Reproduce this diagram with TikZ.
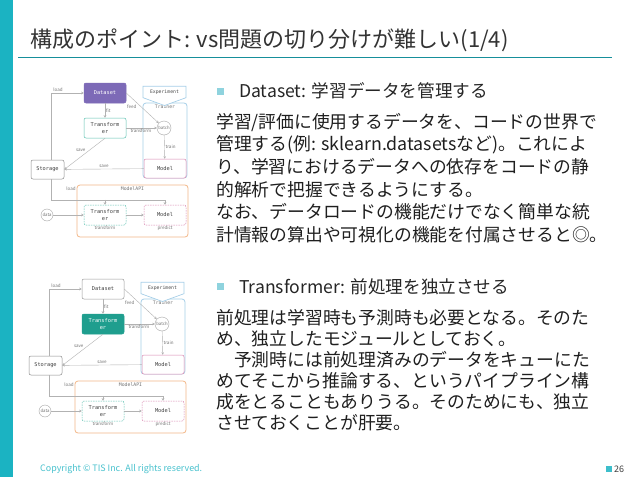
\documentclass[tikz,border=0pt]{standalone}
\usepackage{fontspec}
\setmainfont{Noto Sans CJK JP}
\setmonofont{DejaVu Sans Mono}
\usetikzlibrary{shapes.symbols, arrows.meta, positioning, calc}

\definecolor{tisteal}{HTML}{1BB3C2}
\definecolor{tislight}{HTML}{8FD3DE}
\definecolor{dspurple}{HTML}{7D6AB7}
\definecolor{tfteal}{HTML}{5EC2B2}
\definecolor{tffill}{HTML}{1F9E8E}
\definecolor{mdpink}{HTML}{DA86B0}
\definecolor{trblue}{HTML}{A6CFE8}
\definecolor{apiorange}{HTML}{F3B888}

% one copy of the pipeline sketch: prefix, shift, dataset look, transformer look
\newcommand{\pipelinesketch}[4]{%
\begin{scope}[shift={#2}, name prefix=#1-]
    % frames
    \node [frame=trblue, minimum width=44pt, minimum height=75pt] (trainer) at (165,140.5) {};
    \node [tag, font=\ttfamily\fontsize{4.8}{5}\selectfont, below=1pt of trainer.north] (trainertag) {Trainer};
    \node [frame=apiorange, minimum width=111pt, minimum height=52pt] (api) at (132.5,211) {};
    \node [tag, font=\ttfamily\fontsize{4.8}{5}\selectfont, below=1pt of api.north] (apitag) {ModelAPI};
    \node [shape=signal, signal to=south, signal pointer angle=140, draw=trblue, line width=0.7pt,
           fill=white, minimum width=43pt, minimum height=17pt, inner sep=1pt,
           font=\ttfamily\fontsize{4.8}{5}\selectfont, text=black!70] (exp) at (164.5,92) {Experiment};
    % boxes
    \node [#3] (dataset) at (105,93) {Dataset};
    \node [#4] (tf) at (105,128) {Transform\\er};
    \node [ring] (batch) at (164,128) {batch};
    \node [box=mdpink, minimum height=19pt] (model) at (165,168.5) {Model};
    \node [box=black!45, minimum width=33pt, minimum height=19pt] (storage) at (47.5,169.5) {Storage};
    \node [box=tfteal, dashed, dash pattern=on 1.5pt off 1pt] (tfapi) at (105,215) {Transform\\er};
    \node [box=mdpink, dashed, dash pattern=on 1.5pt off 1pt] (mdapi) at (165,215) {Model};
    \node [ring, minimum size=12pt] (data) at (47,215) {data};
    % connectors
    \draw [link] ($(storage.north)+(4,0)$) |- (dataset.west) node [tag, pos=0.6, above] {load};
    \draw [link] (dataset) -- (tf) node [tag, midway, right] {fit};
    \draw [link] (dataset.east) -- (batch) node [tag, pos=0.35, below left] {feed};
    \draw [link] (tf) -- (batch) node [tag, pos=0.1, below right] {transform};
    \draw [link] (batch) -- (model) node [tag, midway, right] {train};
    \draw [link] (tf.south) -- (storage.east) node [tag, pos=0.45, above left] {save};
    \draw [link] (model) -- (storage) node [tag, midway, above] {save};
    \coordinate (split) at ($(tfapi.north)+(0,-5)$);
    \draw [link] ($(storage.south)+(4,0)$) |- ($(mdapi.north)+(0,-5)$) -- (mdapi.north);
    \draw [link] (split) -- (tfapi.north);
    \node [tag] (loadtag) at (71,189) {load};
    \draw [link] (data) -- (tfapi);
    \draw [link] (tfapi) -- (mdapi);
    \node [tag, below=-1pt of tfapi.south] (tfapitag) {transform};
    \node [tag, below=-1pt of mdapi.south] (mdapitag) {predict};
\end{scope}}

\begin{document}
\begin{tikzpicture}[x=1pt, y=-1pt,
    frame/.style={draw=#1, rounded corners=3pt, line width=0.8pt},
    box/.style={draw=#1, rounded corners=2pt, fill=white, minimum width=42pt, minimum height=20pt,
                inner sep=1pt, align=center, line width=0.5pt, text=black!75,
                font=\ttfamily\fontsize{5.3}{6.3}\selectfont},
    ring/.style={circle, draw=black!35, fill=white, minimum size=14pt, inner sep=0pt,
                 font=\fontsize{4.3}{5}\selectfont, text=black!55},
    link/.style={draw=black!30, line width=0.4pt, -{Stealth[length=2.5pt, width=2.5pt]}},
    tag/.style={font=\fontsize{4.5}{5}\selectfont, text=black!55, inner sep=1pt},
    heading/.style={font=\fontsize{17.6}{20}\selectfont, text=black!85, inner sep=0pt},
    body/.style={align=left, inner sep=0pt, text=black!88},
    bullet/.style={rectangle, fill=tislight, minimum size=7pt, inner sep=0pt}
]
    \useasboundingbox (0,0) rectangle (638,479);
    \fill [white] (0,0) rectangle (638,479);
    % slide frame
    \fill [tisteal] (0,0) rectangle (13,477);
    \node [anchor=base west, inner sep=0pt, font=\fontsize{22}{24}\selectfont, text=black!80] (title) at (30,47)
        {構成のポイント: vs問題の切り分けが難しい(1/4)};
    \draw [tisteal!80!black, line width=0.7pt] (18,57) -- (612,57);

    % the two sketches
    \pipelinesketch{top}{(0,0)}{box=dspurple, fill=dspurple, text=white}{box=tfteal}
    \pipelinesketch{low}{(-2,196)}{box=black!40}{box=tffill, fill=tffill, text=white}

    % right column
    \node [bullet] (dsbullet) at (220.5,91) {};
    \node [heading, anchor=base west] (dshead) at (239,97) {Dataset: 学習データを管理する};
    \node [body, anchor=north west, font=\fontsize{17.8}{22.6}\selectfont] (dsbody) at (216,113) {%
        学習/評価に使用するデータを、コードの世界で\\
        管理する(例: sklearn.datasetsなど)。これによ\\
        り、学習におけるデータへの依存をコードの静\\
        的解析で把握できるようにする。\\
        なお、データロードの機能だけでなく簡単な統\\
        計情報の算出や可視化の機能を付属させると◎。};

    \node [bullet] (tfbullet) at (220.5,286.5) {};
    \node [heading, anchor=base west] (tfhead) at (239,293) {Transformer: 前処理を独立させる};
    \node [body, anchor=north west, font=\fontsize{17.8}{21}\selectfont] (tfbody) at (216,309) {%
        前処理は学習時も予測時も必要となる。そのた\\
        め、独立したモジュールとしておく。\\
        　予測時には前処理済みのデータをキューにた\\
        めてそこから推論する、というパイプライン構\\
        成をとることもありうる。そのためにも、独立\\
        させておくことが肝要。};

    % footer
    \node [anchor=west, inner sep=0pt, font=\fontsize{8.9}{10}\selectfont, text=tisteal!80] (copy) at (40,469)
        {Copyright © TIS Inc. All rights reserved.};
    \node [bullet, fill=tisteal!85, minimum size=6pt] (pagebullet) at (608.5,469) {};
    \node [anchor=west, inner sep=0pt, font=\fontsize{9}{10}\selectfont, text=black!75] (page) at (614,469) {26};
\end{tikzpicture}
\end{document}
